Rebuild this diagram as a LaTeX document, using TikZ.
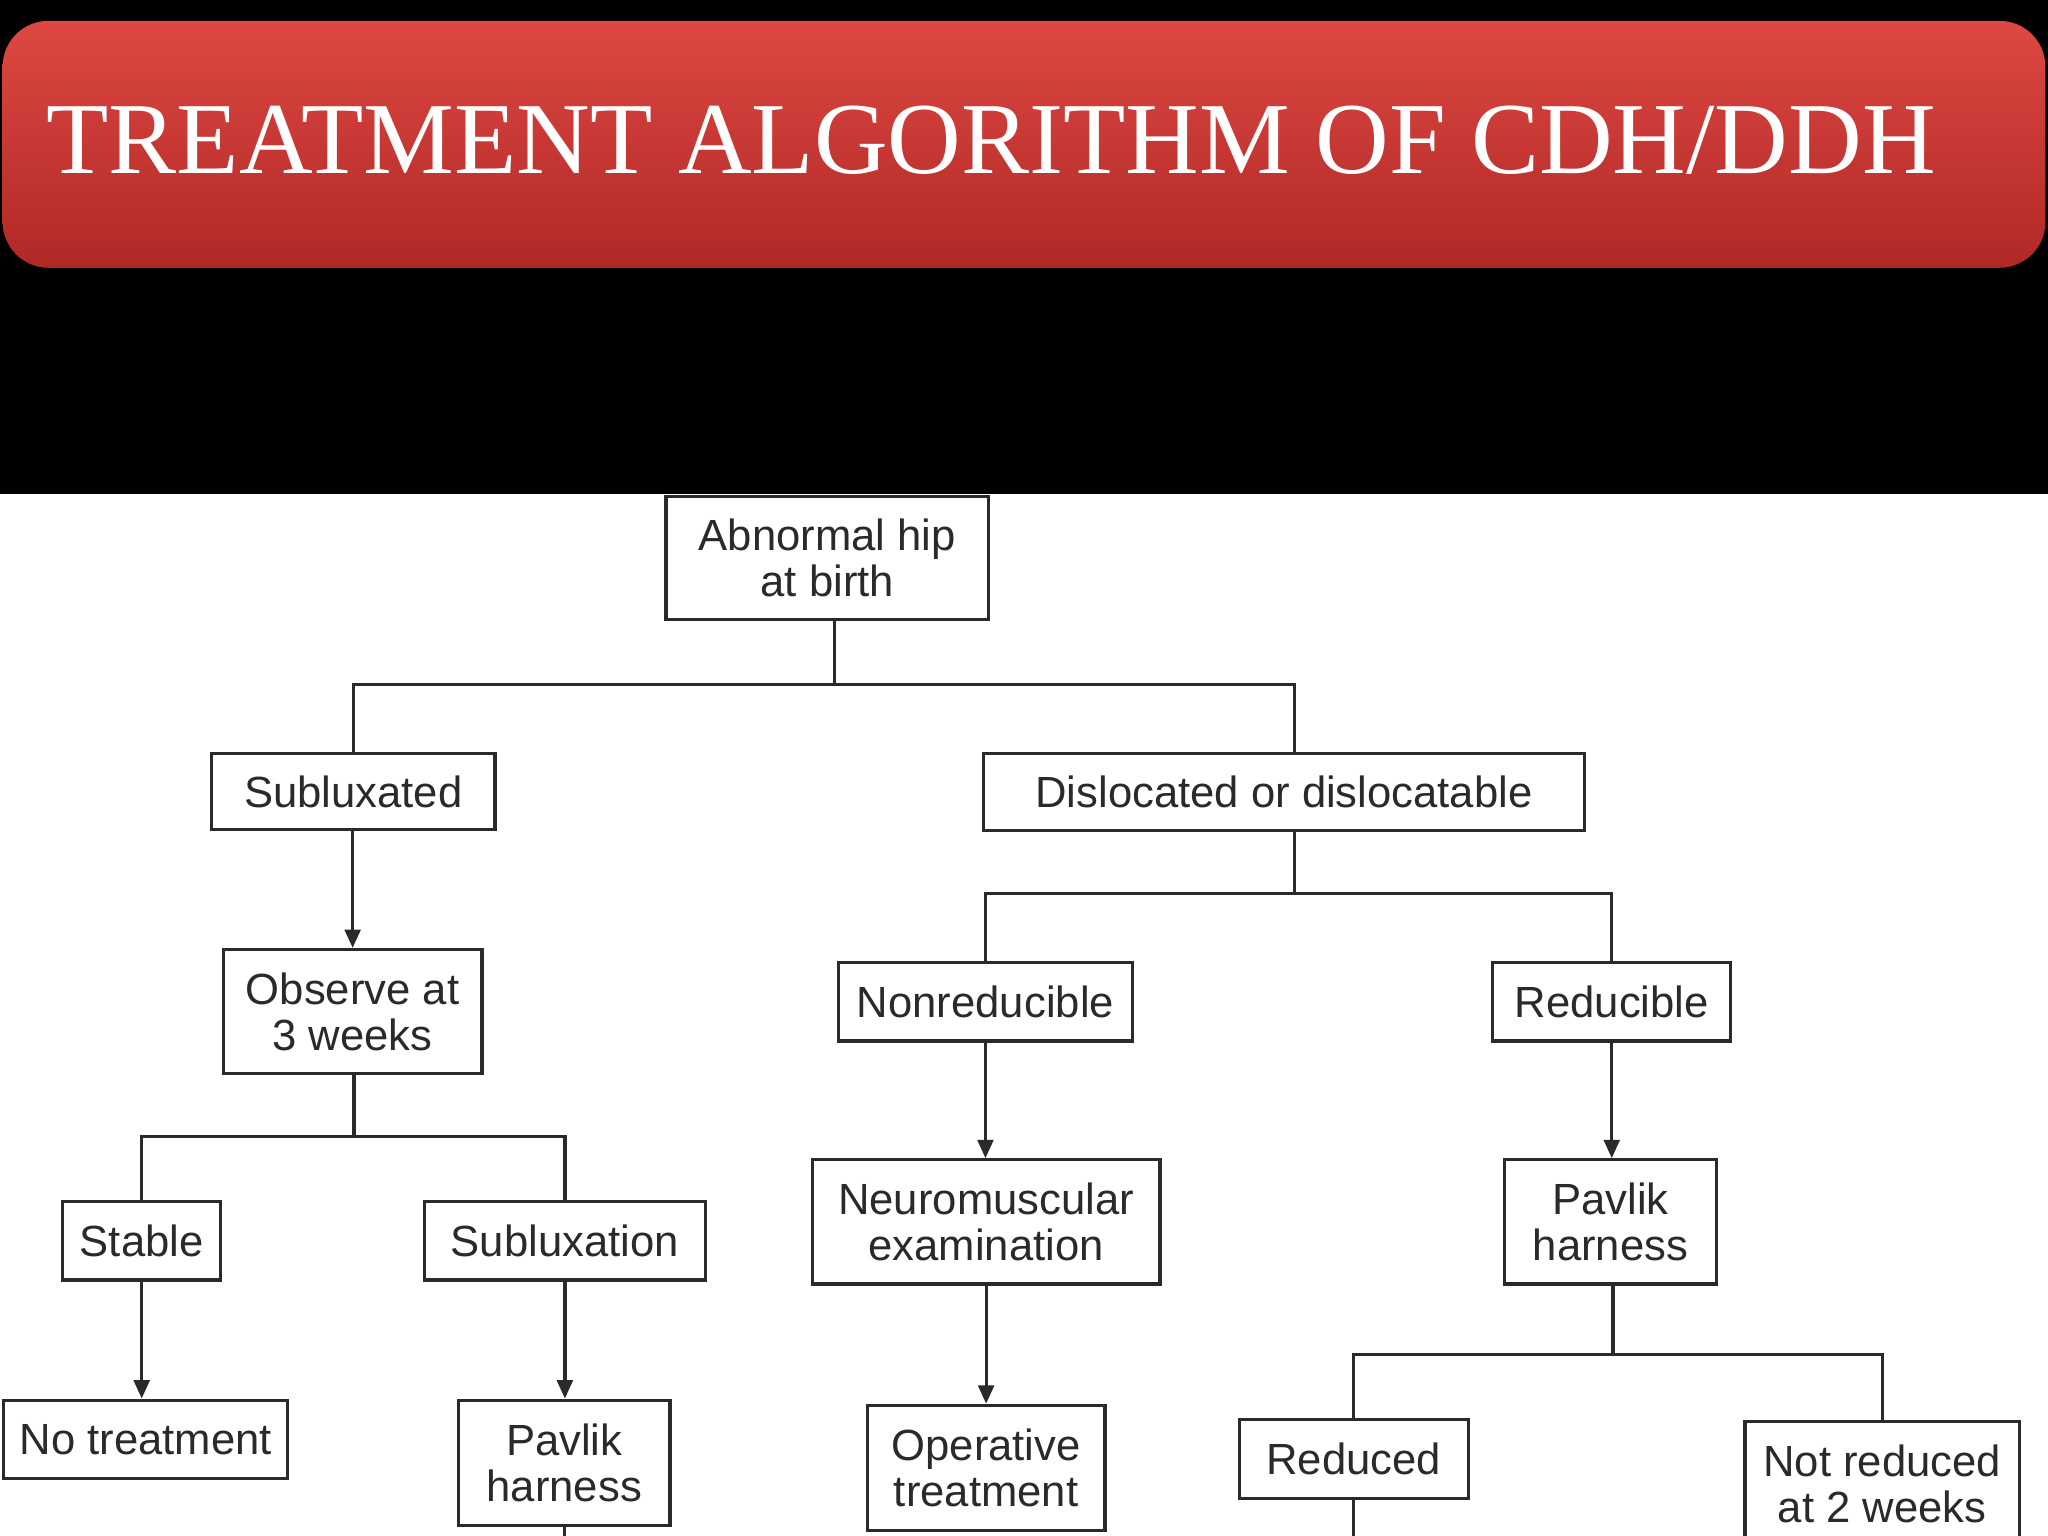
\documentclass[tikz,border=0pt]{standalone}
\usepackage{fontspec}
\setmainfont{Liberation Serif}
\newfontfamily\boxfont{Liberation Sans}
\usetikzlibrary{arrows.meta}
\definecolor{ink}{HTML}{2A2A2A}
\tikzset{
  bx/.style={draw=ink, line width=0.7pt, fill=white, text=ink, font=\boxfont\fontsize{9.5pt}{10pt}\selectfont, align=center, inner sep=0pt},
  ln/.style={draw=ink, line width=0.7pt},
  ar/.style={ln, -{Triangle[length=0.14cm,width=0.12cm]}}
}
\begin{document}
\begin{tikzpicture}[x=0.01cm,y=-0.01cm]
\fill[black] (0,0) rectangle (1568,1176);
\fill[white] (0,378) rectangle (1568,1176);
\useasboundingbox (0,0) rectangle (1568,1176);
\shade[top color={rgb,255:red,222;green,72;blue,66}, bottom color={rgb,255:red,176;green,40;blue,38}, rounded corners=0.35cm] (2,16) rectangle (1566,205);
\node[anchor=base west, text=white, font=\fontsize{22.2pt}{24pt}\selectfont, inner sep=0pt] (title) at (35,133) {TREATMENT ALGORITHM OF CDH/DDH};

\node[bx, minimum width=2.47cm, minimum height=0.94cm] (abn) at (633.5,427) {Abnormal hip\\at birth};
\node[bx, minimum width=2.17cm, minimum height=0.58cm] (subl) at (270.5,606) {Subluxated};
\node[bx, minimum width=4.60cm, minimum height=0.59cm] (disl) at (983,606.5) {Dislocated or dislocatable};
\node[bx, minimum width=1.98cm, minimum height=0.95cm] (obs) at (270,774.5) {Observe at\\3 weeks};
\node[bx, minimum width=2.25cm, minimum height=0.60cm] (nonr) at (754.5,767) {Nonreducible};
\node[bx, minimum width=1.82cm, minimum height=0.60cm] (red) at (1234,767) {Reducible};
\node[bx, minimum width=1.21cm, minimum height=0.60cm] (stab) at (108.5,950) {Stable};
\node[bx, minimum width=2.15cm, minimum height=0.60cm] (subx) at (432.5,950) {Subluxation};
\node[bx, minimum width=2.66cm, minimum height=0.95cm] (neur) at (755,935.5) {Neuromuscular\\examination};
\node[bx, minimum width=1.62cm, minimum height=0.95cm] (pav1) at (1233,935.5) {Pavlik\\harness};
\node[bx, minimum width=2.17cm, minimum height=0.60cm] (notr) at (111.5,1102) {No treatment};
\node[bx, minimum width=1.62cm, minimum height=0.96cm] (pav2) at (432,1120) {Pavlik\\harness};
\node[bx, minimum width=1.82cm, minimum height=0.96cm] (oper) at (755,1124) {Operative\\treatment};
\node[bx, minimum width=1.75cm, minimum height=0.60cm] (redd) at (1036.5,1117) {Reduced};
\node[bx, minimum width=2.10cm, minimum height=0.96cm, anchor=north] (notd) at (1441,1087) {Not reduced\\at 2 weeks};

\coordinate (j1) at (639,524);
\coordinate (j2) at (271,870);
\coordinate (j3) at (991,684);
\coordinate (j4) at (1235,1037);
\coordinate (e1) at (432,1176);
\coordinate (e2) at (1036.5,1176);

\draw[ln] (abn.south -| j1) -- (j1);
\draw[ln] (subl.north) |- (j1) -| (disl.north -| j3);
\draw[ar] (subl.south -| obs.north) -- (obs.north);
\draw[ln] (obs.south -| j2) -- (j2);
\draw[ln] (stab.north) |- (j2) -| (subx.north);
\draw[ln] (disl.south -| j3) -- (j3);
\draw[ln] (nonr.north) |- (j3) -| (red.north);
\draw[ar] (nonr.south) -- (neur.north -| nonr.south);
\draw[ar] (neur.south) -- (oper.north);
\draw[ar] (red.south) -- (pav1.north -| red.south);
\draw[ln] (pav1.south -| j4) -- (j4);
\draw[ln] (redd.north) |- (j4) -| (notd.north);
\draw[ar] (stab.south) -- (notr.north -| stab.south);
\draw[ar] (subx.south) -- (pav2.north -| subx.south);
\draw[ln] (pav2.south) -- (e1);
\draw[ln] (redd.south) -- (e2);
\end{tikzpicture}
\end{document}
